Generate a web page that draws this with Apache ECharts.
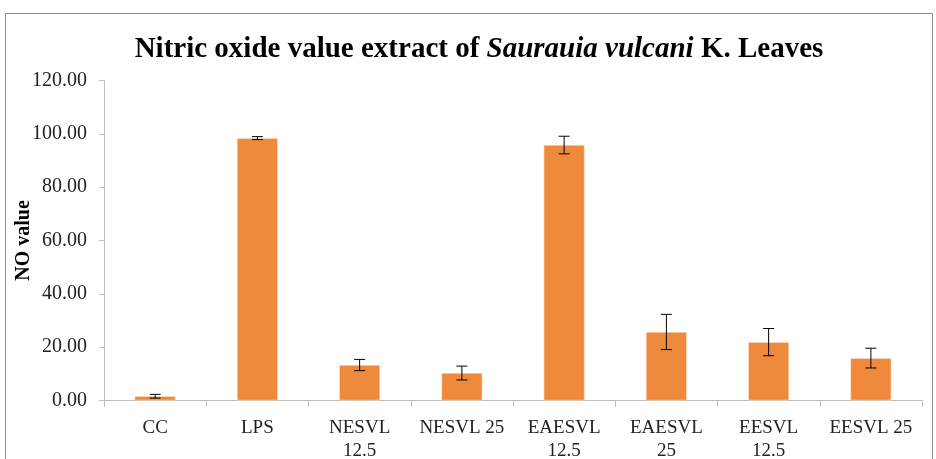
<!DOCTYPE html>
<html>
<head>
<meta charset="utf-8">
<style>html,body{margin:0;padding:0;background:#fff;}#chart{width:936px;height:459px;}</style>
<script src="https://cdn.jsdelivr.net/npm/echarts@6/dist/echarts.min.js"></script>
</head>
<body>
<div id="chart"></div>
<script>
var categories = ["CC", "LPS", "NESVL 12.5", "NESVL 25", "EAESVL 12.5", "EAESVL 25", "EESVL 12.5", "EESVL 25"];
var tickLabels = ["CC", "LPS", "NESVL\n12.5", "NESVL 25", "EAESVL\n12.5", "EAESVL\n25", "EESVL\n12.5", "EESVL 25"];
var noValues = [1.6, 98.4, 13.3, 10.3, 95.8, 25.7, 21.9, 15.9];
var errValues = [0.7, 0.55, 2.1, 2.6, 3.3, 6.6, 5.1, 3.7];
var yTicks = [0, 20, 40, 60, 80, 100, 120];

var errData = noValues.map(function (v, i) { return [i, v - errValues[i], v + errValues[i]]; });
var serif = "'Liberation Serif', 'Times New Roman', serif";

var chart = echarts.init(document.getElementById('chart'));
chart.setOption({
  animation: false,
  graphic: [{
    type: 'rect', shape: { x: 5.5, y: 13.5, width: 927, height: 460 },
    style: { fill: 'none', stroke: '#8c8c8c', lineWidth: 1 }, silent: true
  }, {
    type: 'text', x: 479, y: 35,
    style: {
      align: 'center', verticalAlign: 'top',
      rich: {
        b: { fontFamily: serif, fontWeight: 'bold', fontSize: 29, fill: '#000' },
        i: { fontFamily: serif, fontWeight: 'bold', fontStyle: 'italic', fontSize: 29, fill: '#000' }
      },
      text: '{b|Nitric oxide value extract of }{i|Saurauia vulcani}{b| K. Leaves}'
    }
  }],
  grid: { left: 104, right: 14, top: 80.5, bottom: 58.5, containLabel: false, outerBoundsMode: 'none' },
  xAxis: {
    type: 'category',
    data: categories,
    axisLine: { lineStyle: { color: '#bfbfbf', width: 1 } },
    axisTick: { show: true, length: 6, alignWithLabel: false, lineStyle: { color: '#bfbfbf' } },
    axisLabel: {
      interval: 0, margin: 16, fontFamily: serif, fontSize: 19, color: '#222', lineHeight: 23,
      formatter: function (v, i) { return tickLabels[i]; }
    }
  },
  yAxis: {
    type: 'value', min: 0, max: 120, interval: 20,
    name: 'NO value', nameLocation: 'middle', nameGap: 70, nameMoveOverlap: false,
    nameTextStyle: { fontFamily: serif, fontWeight: 'bold', fontSize: 20, color: '#000' },
    axisLine: { show: true, lineStyle: { color: '#bfbfbf' } },
    axisTick: { show: true, length: 5, lineStyle: { color: '#bfbfbf' } },
    splitLine: { show: false },
    axisLabel: {
      margin: 17, fontFamily: serif, fontSize: 20, color: '#222',
      formatter: function (v) { return yTicks.indexOf(v) >= 0 ? v.toFixed(2) : ''; }
    }
  },
  series: [{
    type: 'bar', data: noValues, barWidth: '40%',
    itemStyle: { color: '#ef8a3c', borderColor: '#fbe3cf', borderWidth: 0.6 }
  }, {
    type: 'custom', data: errData, z: 10,
    renderItem: function (params, api) {
      var x = api.value(0);
      var lo = api.coord([x, api.value(1)]);
      var hi = api.coord([x, api.value(2)]);
      var hw = 5.5;
      var st = { stroke: '#000', lineWidth: 1 };
      return {
        type: 'group', children: [
          { type: 'line', shape: { x1: lo[0], y1: lo[1], x2: hi[0], y2: hi[1] }, style: st },
          { type: 'line', shape: { x1: lo[0] - hw, y1: lo[1], x2: lo[0] + hw, y2: lo[1] }, style: st },
          { type: 'line', shape: { x1: hi[0] - hw, y1: hi[1], x2: hi[0] + hw, y2: hi[1] }, style: st }
        ]
      };
    }
  }]
});
</script>
</body>
</html>
